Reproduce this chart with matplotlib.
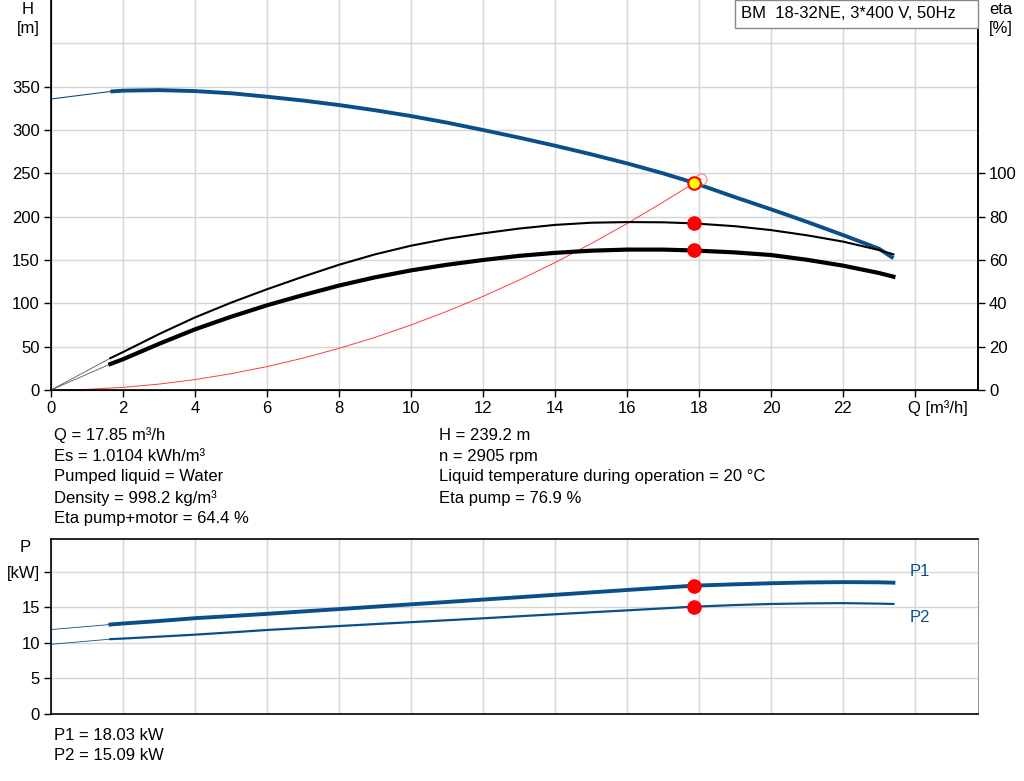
import numpy as np
import matplotlib.pyplot as plt
from matplotlib.patches import Rectangle

plt.rcParams['font.family'] = ['Liberation Sans', 'DejaVu Sans']
plt.rcParams['font.size'] = 12

# flow values (m3/h) for the working range of the curves
q = [1.65, 2, 3, 4, 5, 6, 7, 8, 9, 10, 11, 12, 13, 14, 15, 16, 17, 17.85,
     19, 20, 21, 22, 23, 23.4]

# head H [m]
head = [344.4, 345.4, 346.0, 344.9, 342.4, 338.4, 334.0, 328.8, 322.8, 316.1,
        308.5, 300.0, 291.2, 281.9, 272.0, 261.5, 250.0, 239.2, 222.5, 208.5,
        194.0, 178.8, 163.0, 152.0]
# eta pump [%]
eta_pump = [14.7, 17.5, 25.8, 33.5, 40.3, 46.5, 52.3, 57.8, 62.6, 66.6, 69.8,
            72.3, 74.5, 76.2, 77.2, 77.5, 77.4, 76.9, 75.6, 73.8, 71.4, 68.5,
            64.6, 62.6]
# eta pump+motor [%]
eta_total = [12.0, 14.2, 21.3, 28.0, 33.8, 39.1, 43.8, 48.2, 52.0, 55.2, 57.8,
             60.0, 61.9, 63.3, 64.3, 64.8, 64.8, 64.4, 63.5, 62.3, 60.1, 57.4,
             54.0, 52.3]
# power P1 / P2 [kW]
p1 = [12.56, 12.7, 13.05, 13.45, 13.75, 14.06, 14.4, 14.73, 15.07, 15.4,
      15.73, 16.07, 16.4, 16.74, 17.08, 17.42, 17.75, 18.03, 18.22, 18.37,
      18.48, 18.53, 18.5, 18.45]
p2 = [10.5, 10.58, 10.85, 11.13, 11.45, 11.79, 12.07, 12.34, 12.62, 12.89,
      13.16, 13.43, 13.72, 14.0, 14.28, 14.55, 14.83, 15.07, 15.3, 15.45,
      15.53, 15.57, 15.5, 15.45]

# values at Q = 0 (thin extensions)
head_q0 = 335.8
p1_q0 = 11.85
p2_q0 = 9.77

# system curve
q_sys = [0, 1, 2, 3, 4, 5, 6, 7, 8, 9, 10, 11, 12, 13, 14, 15, 16, 17, 18.05]
h_sys = [0, 0.75, 3.0, 6.8, 12, 18.8, 27, 36.8, 48, 60.7, 75, 90.8, 108,
         126.8, 147, 168.8, 192, 216.7, 243.6]

# duty point
q_duty = 17.85
h_duty = 239.2
eta_pump_duty = 76.9
eta_total_duty = 64.4
p1_duty = 18.03
p2_duty = 15.09

info_left = ['Q = 17.85 m³/h', 'Es = 1.0104 kWh/m³', 'Pumped liquid = Water',
             'Density = 998.2 kg/m³', 'Eta pump+motor = 64.4 %']
info_right = ['H = 239.2 m', 'n = 2905 rpm',
              'Liquid temperature during operation = 20 °C',
              'Eta pump = 76.9 %']
info_power = ['P1 = 18.03 kW', 'P2 = 15.09 kW']
title = 'BM  18-32NE, 3*400 V, 50Hz'

blue = '#0b4f8a'
grid_c = '#d6d6d6'
W, H = 1024, 781


def fx(px):
    return px / W


def fy(py):
    return 1 - py / H


fig = plt.figure(figsize=(W / 100, H / 100), dpi=100)
ax = fig.add_axes([fx(51), fy(390), fx(978) - fx(51), fy(0) - fy(390)])
ax2 = ax.twinx()

xmax = 25.75
ax.set_xlim(0, xmax)
ax.set_ylim(0, 450)
ax2.set_ylim(0, 180)

ax.set_xticks(np.arange(0, 25, 2))
ax.set_xticklabels([str(v) for v in range(0, 24, 2)] + [''])
ax.set_yticks(np.arange(0, 351, 50))
ax.set_yticks([400], minor=True)
ax.tick_params(axis='y', which='minor', length=0)
ax2.set_yticks(np.arange(0, 101, 20))
ax.tick_params(direction='out', length=5, width=1, colors='black', pad=3)
ax2.tick_params(direction='out', length=5, width=1, colors='black', pad=3)
ax.grid(True, which='both', color=grid_c, lw=1.0)
ax.set_axisbelow(True)
ax.spines['top'].set_visible(False)
ax2.spines['top'].set_visible(False)
for s in ['left', 'bottom', 'right']:
    ax.spines[s].set_linewidth(1.2)
ax2.spines['right'].set_linewidth(1.2)

# H curve
ax.plot([0, q[0]], [head_q0, head[0]], color=blue, lw=0.8)
ax.plot(q, head, color=blue, lw=2.8, solid_capstyle='butt')
# system curve
ax.plot(q_sys, h_sys, color='#ff3b3b', lw=0.7)
ax.plot(q_sys[-1], h_sys[-1], 'o', ms=8, mfc='none', mec='#ff8080', mew=0.8)
ax.plot(q_duty, h_duty, 'o', ms=9, mfc='#ffff00', mec='#ff0000', mew=1.5,
        zorder=5)

# eta curves
ax2.plot([0, q[0]], [0, eta_pump[0]], color='#555555', lw=0.6)
ax2.plot([0, q[0]], [0, eta_total[0]], color='#555555', lw=0.6)
ax2.plot(q, eta_pump, color='black', lw=1.5)
ax2.plot(q, eta_total, color='black', lw=3.0)
ax2.plot([q_duty, q_duty], [eta_pump_duty, eta_total_duty], 'o', ms=9.5,
         color='#ff0000', zorder=5)

fig.text(fx(908), fy(408), 'Q [m³/h]', ha='left', va='center')
fig.text(fx(28), fy(10), 'H', ha='center', va='center')
fig.text(fx(28), fy(29), '[m]', ha='center', va='center')
fig.text(fx(1001), fy(10), 'eta', ha='center', va='center')
fig.text(fx(1001), fy(29), '[%]', ha='center', va='center')

box = Rectangle((fx(735), fy(28)), fx(978) - fx(735), fy(0) - fy(28),
                transform=fig.transFigure, facecolor='white',
                edgecolor='#888888', lw=1.0, zorder=10)
fig.add_artist(box)
fig.text(fx(741), fy(13.5), title, ha='left', va='center', zorder=11)

for i, t in enumerate(info_left):
    fig.text(fx(54), fy(435 + i * 21), t, ha='left', va='center')
for i, t in enumerate(info_right):
    fig.text(fx(439), fy(435 + i * 21), t, ha='left', va='center')

# power plot
bx = fig.add_axes([fx(51), fy(713.7), fx(978) - fx(51), fy(539) - fy(713.7)])
bx.set_xlim(0, xmax)
bx.set_ylim(0, 24.6)
bx.set_xticks(np.arange(0, 25, 2))
bx.set_xticklabels([])
bx.tick_params(axis='x', length=0)
bx.set_yticks(np.arange(0, 21, 5))
bx.set_yticklabels(['0', '5', '10', '15', '[kW]'])
bx.tick_params(axis='y', direction='out', length=5, width=1, pad=3)
bx.grid(True, color=grid_c, lw=1.0)
bx.set_axisbelow(True)
bx.spines['right'].set_color('#999999')
for s in ['left', 'bottom', 'top']:
    bx.spines[s].set_linewidth(1.2)

bx.plot([0, q[0]], [p1_q0, p1[0]], color=blue, lw=0.6)
bx.plot([0, q[0]], [p2_q0, p2[0]], color=blue, lw=0.6)
bx.plot(q, p1, color=blue, lw=2.8)
bx.plot(q, p2, color=blue, lw=1.6)
bx.plot([q_duty, q_duty], [p1_duty, p2_duty], 'o', ms=9.5, color='#ff0000',
        zorder=5)
fig.text(fx(910), fy(572), 'P1', color=blue, ha='left', va='center')
fig.text(fx(910), fy(617), 'P2', color=blue, ha='left', va='center')
fig.text(fx(25), fy(548), 'P', ha='center', va='center')

for i, t in enumerate(info_power):
    fig.text(fx(54), fy(735 + i * 21), t, ha='left', va='center')

fig.savefig('out.png', dpi=100)
